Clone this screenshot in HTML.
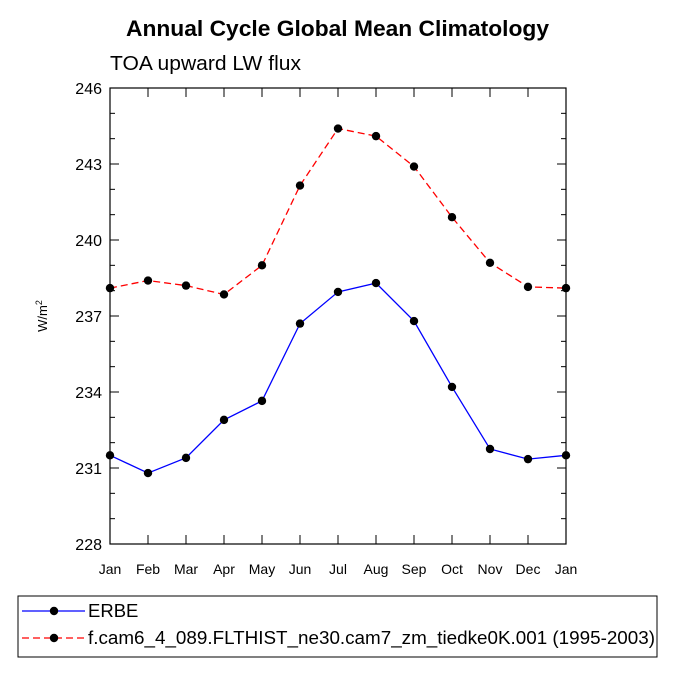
<!DOCTYPE html>
<html><head><meta charset="utf-8"><style>
html,body{margin:0;padding:0;background:#fff;}
svg{display:block;font-family:"Liberation Sans",Helvetica,Arial,sans-serif;}
</style></head><body>
<svg id="chart" width="675" height="675" viewBox="0 0 675 675">
<text x="126" y="36" font-size="22.5" font-weight="bold" textLength="423" lengthAdjust="spacingAndGlyphs">Annual Cycle Global Mean Climatology</text>
<text x="110" y="70" font-size="20" textLength="191" lengthAdjust="spacingAndGlyphs">TOA upward LW flux</text>
<text transform="translate(47,316) rotate(-90)" text-anchor="middle" font-size="13">W/m<tspan dy="-5" font-size="9">2</tspan></text>
<g id="axes"></g>
<g id="series"></g>
<g id="legend"></g>
</svg>
<script>
const months = ["Jan","Feb","Mar","Apr","May","Jun","Jul","Aug","Sep","Oct","Nov","Dec","Jan"];
const erbe = [231.5,230.8,231.4,232.9,233.65,236.7,237.95,238.3,236.8,234.2,231.75,231.35,231.5];
const model = [238.1,238.4,238.2,237.85,239.0,242.15,244.4,244.1,242.9,240.9,239.1,238.15,238.1];
const yTicks = [228,231,234,237,240,243,246];
const seriesNames = ["ERBE","f.cam6_4_089.FLTHIST_ne30.cam7_zm_tiedke0K.001 (1995-2003)"];
const seriesColors = ["#0000ff","#ff0000"];

const NS="http://www.w3.org/2000/svg";
const L=110,R=566,T=88,B=544,ymin=228,ymax=246;
const xs=i=>L+(R-L)*i/(months.length-1);
const ys=v=>B-(B-T)*(v-ymin)/(ymax-ymin);
function mk(tag,attrs,parent){const e=document.createElementNS(NS,tag);for(const k in attrs)e.setAttribute(k,attrs[k]);parent.appendChild(e);return e;}
const axes=document.getElementById('axes');
const frame=mk('rect',{x:L,y:T,width:R-L,height:B-T,fill:'none',stroke:'#000','stroke-width':1.2},axes);


for(let v=ymin;v<=ymax;v++){
  const major=yTicks.includes(v);const len=major?9:5;const y=ys(v);
  mk('line',{x1:L,x2:L+len,y1:y,y2:y,stroke:'#000'},axes);
  mk('line',{x1:R,x2:R-len,y1:y,y2:y,stroke:'#000'},axes);
}
yTicks.forEach(v=>{
  const t=mk('text',{x:L-8,y:ys(v)+6,'text-anchor':'end','font-size':16},axes);
  t.textContent=v;
  
  
});
months.forEach((m,i)=>{
  const x=xs(i);
  mk('line',{x1:x,x2:x,y1:B,y2:B-9,stroke:'#000'},axes);
  mk('line',{x1:x,x2:x,y1:T,y2:T+9,stroke:'#000'},axes);
  const t=mk('text',{x:x,y:B+30,'text-anchor':'middle','font-size':14},axes);
  t.textContent=m;
  
  
});
const sg=document.getElementById('series');
[[erbe,0,''],[model,1,'7,4']].forEach(([data,k,dash])=>{
  const p=mk('polyline',{points:data.map((v,i)=>xs(i)+','+ys(v)).join(' '),fill:'none',stroke:seriesColors[k],'stroke-width':1.3,'stroke-dasharray':dash},sg);
  
  
  data.forEach((v,i)=>{
    const c=mk('circle',{cx:xs(i),cy:ys(v),r:4.2,fill:'#000'},sg);
    
    
  });
});
const lg=document.getElementById('legend');
const box=mk('rect',{x:18,y:596,width:639,height:61,fill:'none',stroke:'#000','stroke-width':1},lg);


seriesNames.forEach((n,k)=>{
  const y=611+k*27;
  mk('line',{x1:22,x2:85,y1:y,y2:y,stroke:seriesColors[k],'stroke-width':1.3,'stroke-dasharray':k?'7,4':''},lg);
  mk('circle',{cx:54,cy:y,r:4.2,fill:'#000'},lg);
  const t=mk('text',{x:88,y:y+6,'font-size':18.5},lg);
  if(k===1){t.setAttribute('textLength',567);t.setAttribute('lengthAdjust','spacingAndGlyphs');}
  t.textContent=n;
  
  
});
</script>
</body></html>
